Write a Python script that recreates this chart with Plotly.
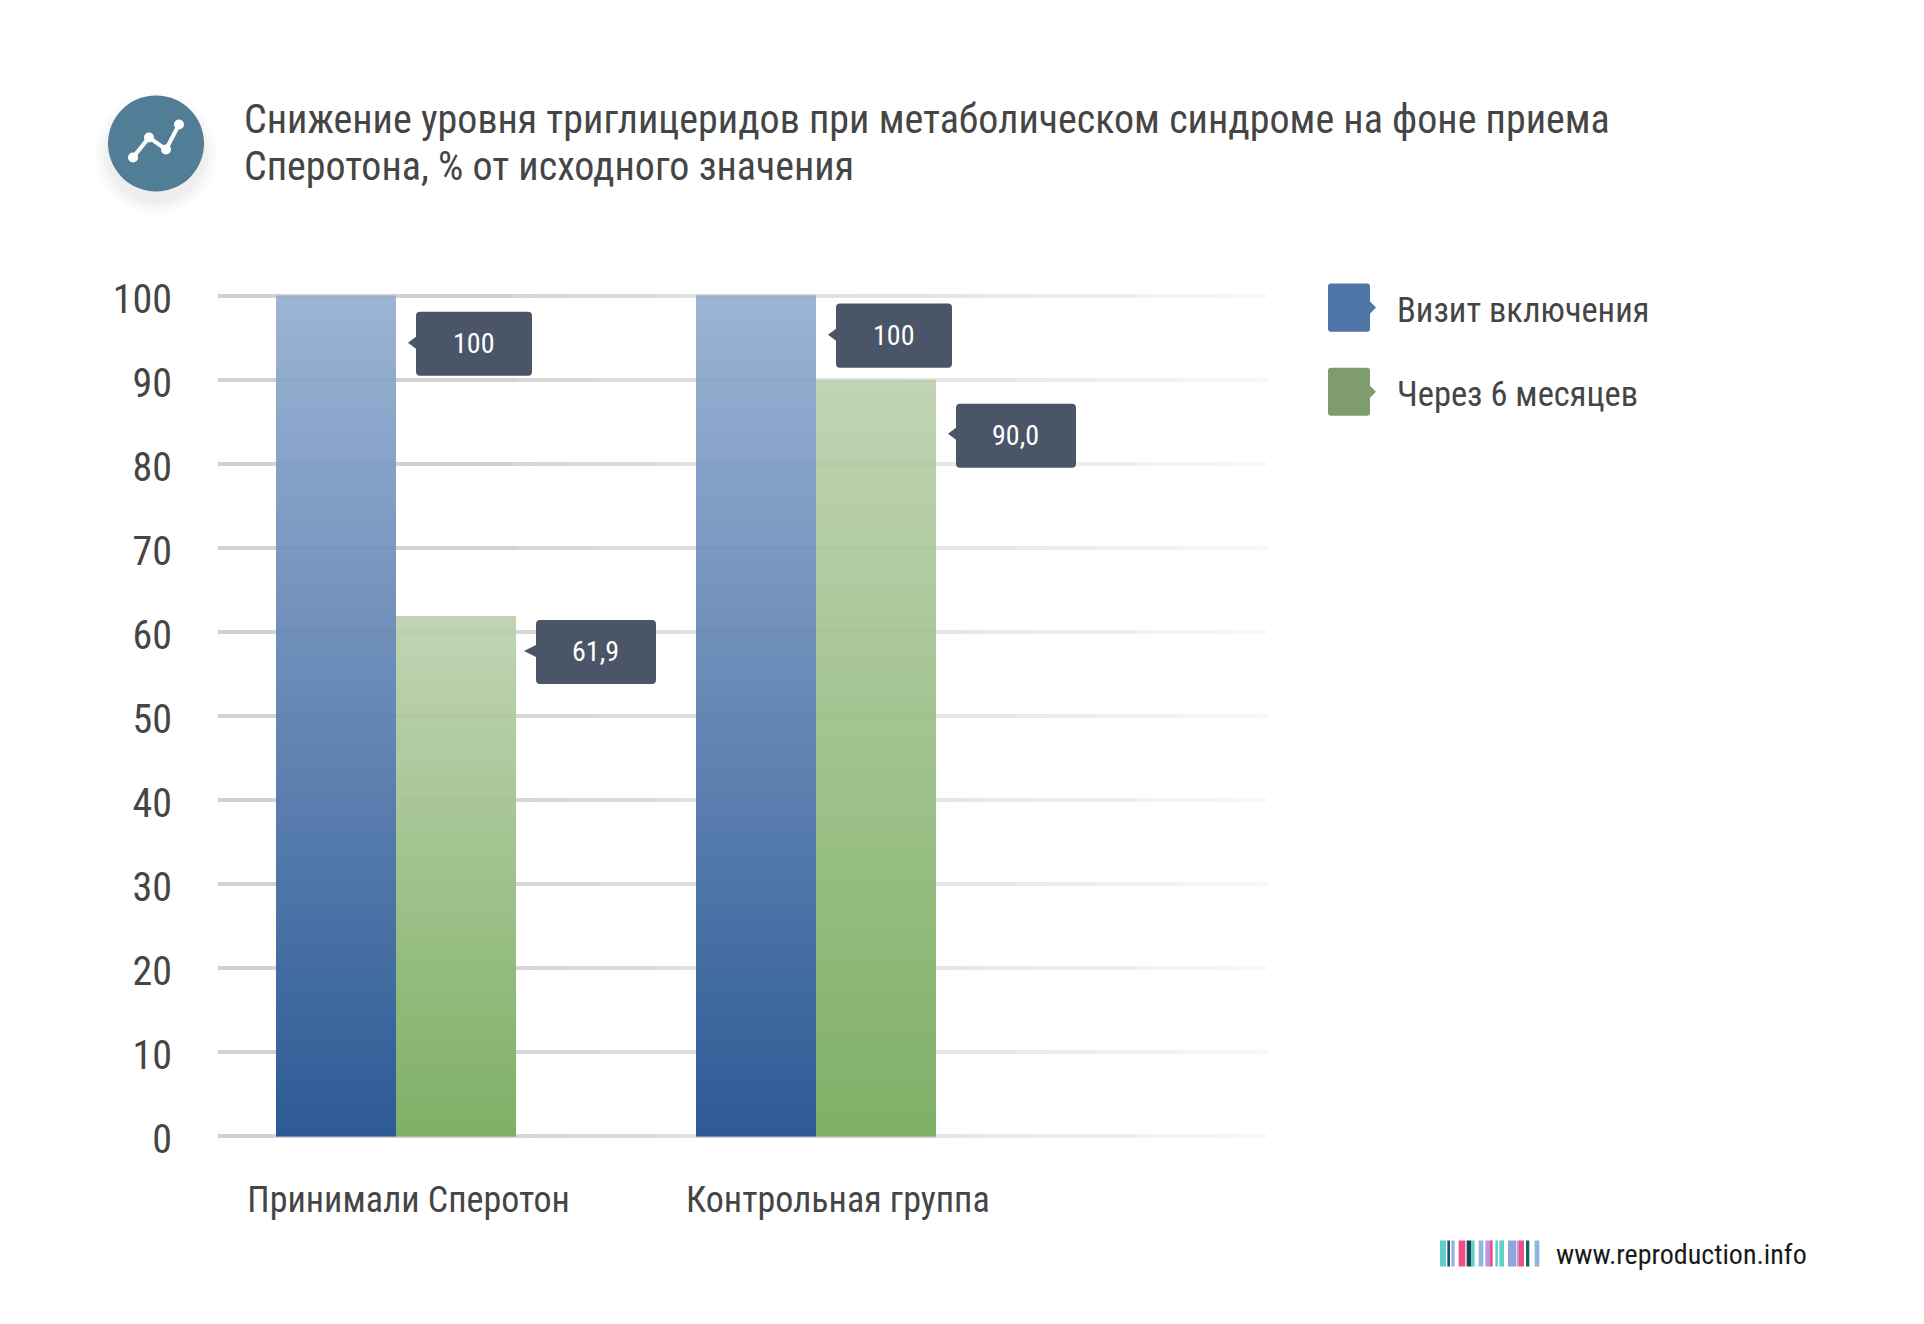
import plotly.graph_objects as go

CATEGORIES = ["Принимали Сперотон", "Контрольная группа"]
SERIES = ["Визит включения", "Через 6 месяцев"]
VISIT_VALUES = [100, 100]
MONTH6_VALUES = [61.9, 90.0]
VALUE_LABELS = [["100", "100"], ["61,9", "90,0"]]
Y_TICKS = [0, 10, 20, 30, 40, 50, 60, 70, 80, 90, 100]
CATEGORY_TICK_POS = [0.03, 1.052]   # the labels sit a bit right of the group centres
TITLE = "Снижение уровня триглицеридов при метаболическом синдроме на фоне приема"
TITLE_LINE2 = "Сперотона, % от исходного значения"
SITE = "www.reproduction.info"

FONT = "Roboto Condensed, Liberation Sans Narrow, Roboto"
TEXT_COLOR = "#454545"
BOX_COLOR = "#4a5567"

# page pixels of the plot area (the browser adds 8px body margin)
FIG_W, FIG_H = 1908, 1308
PLOT_L, PLOT_R, PLOT_T, PLOT_B = 218, 1267, 283.4, 1148.6
GROUP_PX = 420     # distance between the two groups
BAR_W = 120 / GROUP_PX
X_RANGE = [(PLOT_L - 396) / GROUP_PX, (PLOT_R - 396) / GROUP_PX]


def px(x):
    return (x - PLOT_L) / (PLOT_R - PLOT_L)


def py(y):
    return (PLOT_B - y) / (PLOT_B - PLOT_T)


def rounded_box(x0, y0, x1, y1, tip=None, r=4):
    """Path of a rounded box, optional small pointer tip (x, y) on one side."""
    p = f"M{px(x0 + r)},{py(y0)} L{px(x1 - r)},{py(y0)} Q{px(x1)},{py(y0)} {px(x1)},{py(y0 + r)} "
    if tip and tip[0] > x1:
        p += f"L{px(x1)},{py(tip[1] - 6)} L{px(tip[0])},{py(tip[1])} L{px(x1)},{py(tip[1] + 6)} "
    p += f"L{px(x1)},{py(y1 - r)} Q{px(x1)},{py(y1)} {px(x1 - r)},{py(y1)} L{px(x0 + r)},{py(y1)} "
    p += f"Q{px(x0)},{py(y1)} {px(x0)},{py(y1 - r)} "
    if tip and tip[0] < x0:
        p += f"L{px(x0)},{py(tip[1] + 6)} L{px(tip[0])},{py(tip[1])} L{px(x0)},{py(tip[1] - 6)} "
    p += f"L{px(x0)},{py(y0 + r)} Q{px(x0)},{py(y0)} {px(x0 + r)},{py(y0)} Z"
    return p


def paper_shape(**kw):
    return dict(xref="paper", yref="paper", layer="above", line_width=0, **kw)


def label(x, y, text, size, color=TEXT_COLOR, anchor="left"):
    return dict(
        xref="paper", yref="paper", x=px(x), y=py(y), xanchor=anchor, yanchor="middle",
        text=text, showarrow=False, font=dict(size=size, color=color),
    )


def gradient_bar(x0, x1, value, rgb):
    """Dark shading on top of a pale bar, transparent at the top, solid at the base."""
    return go.Scatter(
        x=[x0, x1, x1, x0, x0], y=[0, 0, value, value, 0],
        mode="none", fill="toself", hoverinfo="skip", showlegend=False,
        fillgradient=dict(
            type="vertical", start=value, stop=0,
            colorscale=[[0, f"rgba({rgb},0)"], [1, f"rgba({rgb},1)"]],
        ),
    )


def grid_fade(x0, x1, a0, a1, y0=-1.5):
    """White wash that lets the gridlines fade to the right."""
    return go.Scatter(
        x=[x0, x1, x1, x0, x0], y=[y0, y0, 101.5, 101.5, y0],
        mode="none", fill="toself", hoverinfo="skip", showlegend=False,
        fillgradient=dict(
            type="horizontal", start=x0, stop=x1,
            colorscale=[[0, f"rgba(255,255,255,{a0})"], [1, f"rgba(255,255,255,{a1})"]],
        ),
    )


fig = go.Figure()

fig.add_trace(go.Bar(
    x=[0, 1], y=VISIT_VALUES, name=SERIES[0], width=BAR_W, offset=-BAR_W,
    marker=dict(color="rgba(145,172,207,0.9)", line_width=0), showlegend=False,
))
fig.add_trace(go.Bar(
    x=[0, 1], y=MONTH6_VALUES, name=SERIES[1], width=BAR_W, offset=0,
    marker=dict(color="rgba(186,207,172,0.9)", line_width=0), showlegend=False,
))

# gridlines get paler to the right, only the bare stretches need the wash
fig.add_trace(grid_fade(BAR_W, 1 - BAR_W, 0.1, 0.3))
fig.add_trace(grid_fade(1, 1 + BAR_W, 0.3, 0.42, y0=MONTH6_VALUES[1]))
fig.add_trace(grid_fade(1 + BAR_W, X_RANGE[1], 0.42, 0.85))

for i in range(2):
    fig.add_trace(gradient_bar(i - BAR_W, i, VISIT_VALUES[i], "45,90,149"))
    fig.add_trace(gradient_bar(i, i + BAR_W, MONTH6_VALUES[i], "126,176,102"))

shapes = []
annotations = [label(242, 167, TITLE_LINE2, 40)]

# value callouts: box in page px, pointer tip, series row / group column
CALLOUTS = [
    (416, 312, 532, 376, (408, 343), 0, 0),
    (836, 304, 952, 368, (828, 335), 0, 1),
    (536, 620, 656, 684, (524, 651), 1, 0),
    (956, 404, 1076, 468, (948, 434), 1, 1),
]
for x0, y0, x1, y1, tip, s, g in CALLOUTS:
    shapes.append(paper_shape(type="path", path=rounded_box(x0, y0, x1, y1, tip), fillcolor=BOX_COLOR))
    annotations.append(label((x0 + x1) / 2 - 1, (y0 + y1) / 2, VALUE_LABELS[s][g], 28, "#ffffff", "center"))

# legend, drawn by hand because of the pointed swatches
for (y0, y1), name, color in zip([(284, 332), (368, 416)], SERIES, ["#4f75a6", "#7f9c6e"]):
    mid = (y0 + y1) / 2
    shapes.append(paper_shape(type="path", path=rounded_box(1328, y0, 1370, y1, (1376, mid), r=3), fillcolor=color))
    annotations.append(label(1394.5, mid + 2, name, 34.5))

# round icon with soft shadow
for grow, alpha in [(14, 0.012), (11, 0.015), (8, 0.02), (5, 0.025), (2, 0.03)]:
    shapes.append(paper_shape(
        type="circle", x0=px(108 - grow), x1=px(204 + grow), y0=py(106 - grow), y1=py(202 + grow),
        fillcolor=f"rgba(80,80,80,{alpha})",
    ))
shapes.append(paper_shape(type="circle", x0=px(108), x1=px(204), y0=py(96), y1=py(192), fillcolor="#527d96"))
ICON_PTS = [(133, 158), (149, 138), (166, 150), (179, 125)]
icon_path = "M" + " L".join(f"{px(a)},{py(b)}" for a, b in ICON_PTS)
shapes.append(dict(type="path", xref="paper", yref="paper", path=icon_path, line=dict(color="#ffffff", width=4)))
for a, b in ICON_PTS:
    shapes.append(paper_shape(type="circle", x0=px(a - 5), x1=px(a + 5), y0=py(b - 5), y1=py(b + 5), fillcolor="#ffffff"))

# barcode logo next to the site address
LOGO = [
    (60, 78, "#5fd0c5"), (82, 90, "#1d4f6e"), (94, 104, "#8fb5e0"), (116, 136, "#ee4f86"),
    (140, 154, "#0f4a5c"), (154, 164, "#5fd0c5"), (176, 190, "#8fb5e0"), (196, 210, "#b99ad8"),
    (210, 218, "#ee4f86"), (226, 234, "#5fd0c5"), (238, 252, "#5fd0c5"), (264, 288, "#8fa5dc"),
    (290, 296, "#b99ad8"), (296, 312, "#ee4f86"), (318, 328, "#0f6a70"), (344, 358, "#8fb5e0"),
]
for a, b, color in LOGO:
    shapes.append(paper_shape(
        type="rect", x0=px(1420 + a / 3), x1=px(1420 + b / 3), y0=py(1240), y1=py(1266), fillcolor=color,
    ))
annotations.append(label(1554, 1254, SITE, 28, "#1a1a1a"))

fig.update_layout(
    width=FIG_W,
    height=FIG_H,
    paper_bgcolor="#ffffff",
    plot_bgcolor="#ffffff",
    showlegend=False,
    font=dict(family=FONT, color=TEXT_COLOR),
    margin=dict(l=PLOT_L - 8, r=FIG_W + 8 - PLOT_R, t=PLOT_T - 8, b=FIG_H + 8 - PLOT_B),
    title=dict(
        text=TITLE, font=dict(size=40, color=TEXT_COLOR), xref="paper", yref="container",
        x=px(244), xanchor="left", y=1 - (111 / FIG_H), yanchor="middle",
    ),
    shapes=shapes,
    annotations=annotations,
)
fig.update_xaxes(
    range=X_RANGE, tickvals=CATEGORY_TICK_POS, ticktext=CATEGORIES, showgrid=False, zeroline=False,
    showline=False, ticks="", ticklabelstandoff=26,
    tickfont=dict(size=36, color=TEXT_COLOR),
)
fig.update_yaxes(
    range=[-1.5, 101.5], tickvals=Y_TICKS, showgrid=True, gridcolor="#d2d2d2", gridwidth=4,
    zeroline=False, showline=False, ticks="", ticklabelstandoff=45, ticklabelshift=3,
    tickfont=dict(size=40, color=TEXT_COLOR),
)

fig.write_html("out.html")
